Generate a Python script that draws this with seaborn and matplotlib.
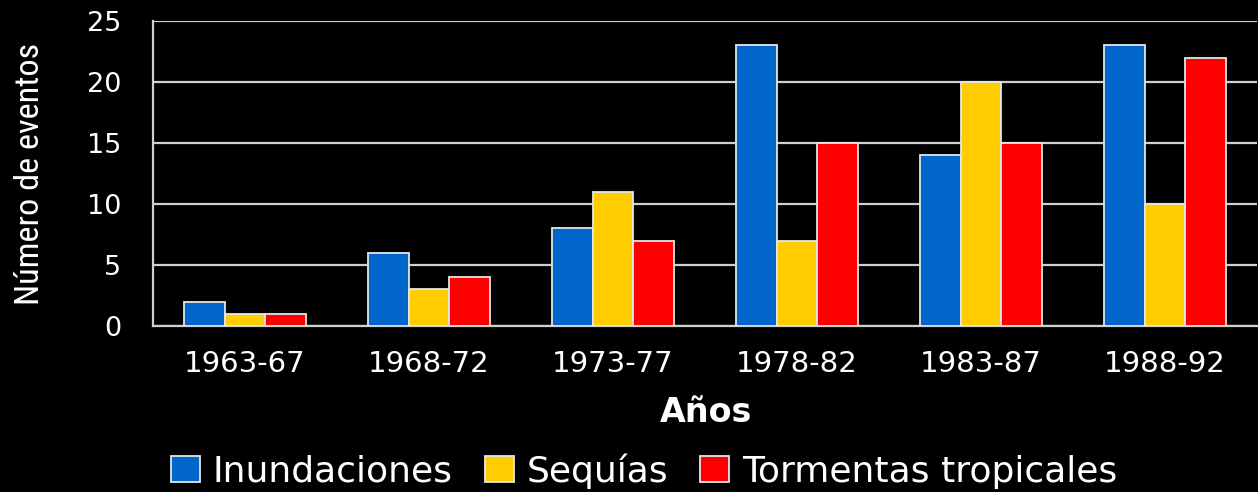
import matplotlib
matplotlib.use("Agg")
import matplotlib.pyplot as plt
import seaborn as sns
import pandas as pd
from matplotlib import font_manager

periods = ["1963-67", "1968-72", "1973-77", "1978-82", "1983-87", "1988-92"]
inundaciones = [2, 6, 8, 23, 14, 23]
sequias = [1, 3, 11, 7, 20, 10]
tormentas = [1, 4, 7, 15, 15, 22]
series_names = ["Inundaciones", "Sequías", "Tormentas tropicales"]
colors = ["#0066CC", "#FFCC00", "#FF0000"]

df = pd.DataFrame({
    "Periodo": periods * 3,
    "Serie": [series_names[0]] * 6 + [series_names[1]] * 6 + [series_names[2]] * 6,
    "Eventos": inundaciones + sequias + tormentas,
})

# pick a condensed face for the vertical axis title if one is installed
installed = {f.name for f in font_manager.fontManager.ttflist}
narrow = next((n for n in ["Liberation Sans Narrow", "DejaVu Sans Condensed",
                           "Roboto Condensed", "Open Sans Condensed", "Arial Narrow"]
               if n in installed), "Liberation Sans")

sns.set_theme(style="dark")
plt.rcParams["font.family"] = ["DejaVu Sans"]

W, H = 1258, 492
fig = plt.figure(figsize=(W / 100, H / 100), dpi=100, facecolor="black")
ax = fig.add_axes([153 / W, 1 - 326 / H, (1257 - 153) / W, (326 - 21) / H])
ax.set_facecolor("black")

sns.barplot(data=df, x="Periodo", y="Eventos", hue="Serie", order=periods,
            hue_order=series_names, palette=colors, saturation=1, width=0.66, gap=0,
            edgecolor="#e6e6e6", linewidth=1.3, errorbar=None, ax=ax,
            legend=True, zorder=3)

ax.set_xlim(-0.5, 5.5)
ax.set_ylim(0, 25)
ax.set_yticks([0, 5, 10, 15, 20, 25])
ax.yaxis.grid(True, color="#cfcfcf", linewidth=1.6, zorder=0)
ax.xaxis.grid(False)
ax.set_axisbelow(True)

for s in ["top", "right"]:
    ax.spines[s].set_visible(False)
for s in ["left", "bottom"]:
    ax.spines[s].set_visible(True)
    ax.spines[s].set_color("#cfcfcf")
    ax.spines[s].set_linewidth(1.6)

ax.tick_params(axis="y", labelcolor="white", labelsize=19.5, length=8, width=1.6,
               color="#cfcfcf", direction="out", pad=15)
ax.set_xticks(range(len(periods)))
ax.set_xticklabels(periods)
ax.tick_params(axis="x", which="major", length=0, labelsize=21, labelcolor="white", pad=17)
ax.set_xticks([i - 0.5 for i in range(len(periods) + 1)], minor=True)
ax.tick_params(axis="x", which="minor", length=6.5, width=1.6, color="#cfcfcf", direction="out")

ax.set_xlabel("")
ax.set_ylabel("")
fig.text(706 / W, 1 - 412 / H, "Años", color="white", fontsize=24, fontweight="bold",
         ha="center", va="center")

ylab = fig.text(30 / W, 1 - 174 / H, "Número de eventos", color="white", rotation=90,
                ha="center", va="center", family=[narrow, "DejaVu Sans"], fontsize=24)
# size the vertical title so it spans the same height as the value axis labels
renderer = fig.canvas.get_renderer()
ext = ylab.get_window_extent(renderer)
ylab.set_fontsize(24 * 263 / ext.height)

handles, labels = ax.get_legend_handles_labels()
ax.get_legend().remove()
leg = fig.legend(handles, labels, loc="center", bbox_to_anchor=(644 / W, 1 - 471 / H), ncol=3,
                 frameon=False, handlelength=0.8, handleheight=0.7, handletextpad=0.35,
                 columnspacing=0.9, prop={"family": "DejaVu Sans", "size": 26})
for t in leg.get_texts():
    t.set_color("white")

fig.savefig("out.png", dpi=100, facecolor="black")
